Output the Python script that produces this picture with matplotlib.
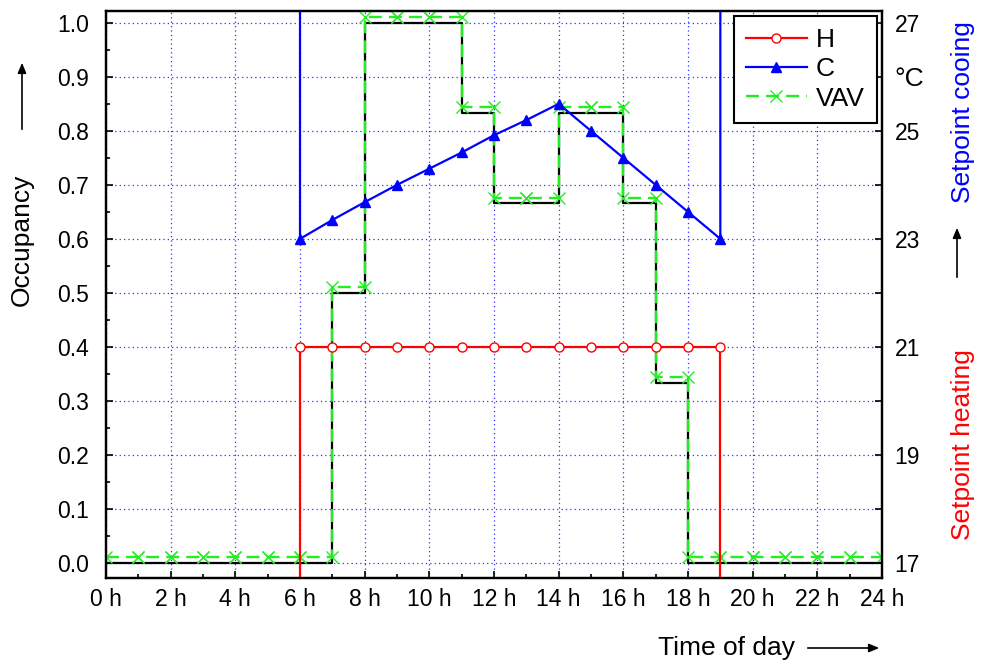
import matplotlib
matplotlib.use('Agg')

import matplotlib.pyplot as plt
from matplotlib.ticker import MultipleLocator, FixedLocator

plt.rcParams['font.family'] = ['Liberation Sans', 'DejaVu Sans']

# hourly values, one per hour interval 0h..23h
occupancy = [0, 0, 0, 0, 0, 0, 0, 0.5, 1.0, 1.0, 1.0, 0.833, 0.667, 0.667,
             0.833, 0.833, 0.667, 0.333, 0, 0, 0, 0, 0, 0]
vav = [0.01, 0.01, 0.01, 0.01, 0.01, 0.01, 0.01, 0.51, 1.01, 1.01, 1.01, 0.845,
       0.675, 0.675, 0.845, 0.845, 0.675, 0.345, 0.01, 0.01, 0.01, 0.01, 0.01, 0.01]

# setpoints during occupied hours (6h..19h), in deg C
set_hours = [6, 7, 8, 9, 10, 11, 12, 13, 14, 15, 16, 17, 18, 19]
heating = [21, 21, 21, 21, 21, 21, 21, 21, 21, 21, 21, 21, 21, 21]
cooling = [23.0, 23.35, 23.68, 24.0, 24.3, 24.6, 24.92, 25.2, 25.5, 25.0, 24.5,
           24.0, 23.5, 23.0]
heating_night = 15
cooling_night = 30

x_ticks = [0, 2, 4, 6, 8, 10, 12, 14, 16, 18, 20, 22, 24]
x_labels = ['%d h' % h for h in x_ticks]
t_ticks = [17, 18, 19, 20, 21, 22, 23, 24, 25, 26, 27]
t_labels = ['17', '', '19', '', '21', '', '23', '', '25', '\u00b0C', '27']

FS = 16.5   # tick labels
LFS = 19    # axis labels and legend

fig = plt.figure(figsize=(9.92, 6.64), dpi=100)
ax = fig.add_axes([106 / 992, 86 / 664, 776 / 992, 567 / 664])

# occupancy (black step)
hours = list(range(25))
ax.step(hours, occupancy + [occupancy[-1]], where='post', color='black', lw=1.6, zorder=2)

# VAV: vertices at every hour on both levels
vx = [0]
vy = [vav[0]]
for h in range(1, 25):
    vx.append(h)
    vy.append(vav[h - 1])
    if h < 24:
        vx.append(h)
        vy.append(vav[h])
vav_line, = ax.plot(vx, vy, color='#22ee22', lw=1.7, ls=(0, (5.5, 3)), marker='x',
                    ms=8, mew=1.0, zorder=3, label='VAV')

ax.set_xlim(0, 24)
ax.set_ylim(-0.028, 1.022)
ax.xaxis.set_major_locator(FixedLocator(x_ticks))
ax.set_xticklabels(x_labels)
ax.xaxis.set_minor_locator(MultipleLocator(1))
ax.yaxis.set_major_locator(MultipleLocator(0.1))
ax.yaxis.set_minor_locator(MultipleLocator(0.05))
ax.yaxis.set_major_formatter(matplotlib.ticker.FormatStrFormatter('%.1f'))
ax.tick_params(which='both', direction='in', labelsize=FS, top=False, right=False)
ax.tick_params(which='major', length=5, width=1.2)
ax.tick_params(which='minor', length=3, width=1.2)
ax.tick_params(axis='x', pad=7)
ax.tick_params(axis='y', pad=12)
ax.grid(True, which='major', color='#3030ff', ls=(0, (1, 2.5)), lw=0.9)
ax.set_axisbelow(True)
for s in ax.spines.values():
    s.set_linewidth(1.6)

ax2 = ax.twinx()
ax2.set_ylim(17 - 0.28, 17 + 10.22)
hx = [6] + set_hours + [19]
hy = [heating_night] + heating + [heating_night]
cy = [cooling_night] + cooling + [cooling_night]
h_line, = ax2.plot(hx, hy, color='red', lw=1.6, marker='o', ms=6.5, mfc='white',
                   mec='red', mew=1.0, markevery=list(range(1, 15)), label='H')
c_line, = ax2.plot(hx, cy, color='blue', lw=1.6, marker='^', ms=7,
                   markevery=list(range(1, 15)), label='C')
ax2.yaxis.set_major_locator(FixedLocator(t_ticks))
ax2.set_yticklabels(t_labels)
ax2.tick_params(which='both', direction='in', labelsize=FS, length=5, width=1.2, pad=9)
ax2.get_yticklabels()[9].set_fontsize(19)
for s in ax2.spines.values():
    s.set_linewidth(1.6)

leg = ax2.legend(handles=[h_line, c_line, vav_line], loc='upper right', fontsize=LFS,
                 frameon=True, fancybox=False, edgecolor='black', framealpha=1,
                 handlelength=2.3, borderaxespad=0.2, labelspacing=0.2,
                 handletextpad=0.35, borderpad=0.45)
leg.get_frame().set_linewidth(1.5)

# axis labels with arrows
fig.text(22 / 992, 1 - 240 / 664, 'Occupancy', rotation=90, fontsize=LFS,
         ha='center', va='center')
fig.patches.append(matplotlib.patches.FancyArrowPatch(
    (22 / 992, 1 - 132 / 664), (22 / 992, 1 - 60 / 664), transform=fig.transFigure,
    arrowstyle='-|>,head_length=6,head_width=2.5', color='black', lw=1.2))

fig.text(727 / 992, 1 - 648 / 664, 'Time of day', fontsize=LFS, ha='center', va='center')
fig.patches.append(matplotlib.patches.FancyArrowPatch(
    (805 / 992, 1 - 648 / 664), (882 / 992, 1 - 648 / 664), transform=fig.transFigure,
    arrowstyle='-|>,head_length=6,head_width=2.5', color='black', lw=1.2))

fig.text(963 / 992, 1 - 112 / 664, 'Setpoint cooing', rotation=90, fontsize=LFS,
         color='blue', ha='center', va='center')
fig.text(963 / 992, 1 - 445 / 664, 'Setpoint heating', rotation=90, fontsize=LFS,
         color='red', ha='center', va='center')
fig.patches.append(matplotlib.patches.FancyArrowPatch(
    (957 / 992, 1 - 280 / 664), (957 / 992, 1 - 225 / 664), transform=fig.transFigure,
    arrowstyle='-|>,head_length=6,head_width=2.5', color='black', lw=1.2))

fig.savefig('out.png', dpi=100)
